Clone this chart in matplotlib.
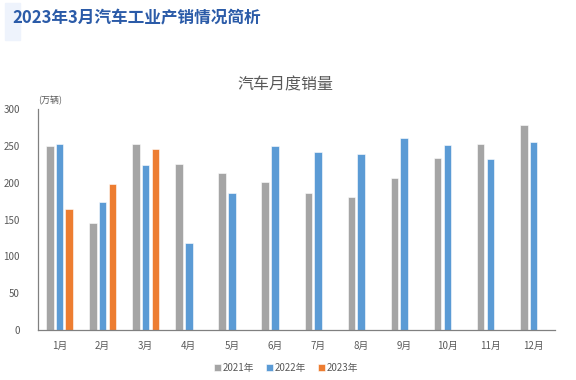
import matplotlib
matplotlib.use("Agg")
import matplotlib.pyplot as plt
import matplotlib.patches as mpatches
import numpy as np

plt.rcParams["font.family"] = ["Noto Sans CJK SC", "DejaVu Sans"]

months = ["1月", "2月", "3月", "4月", "5月", "6月", "7月", "8月", "9月", "10月", "11月", "12月"]
sales_2021 = [250.0, 145.5, 252.6, 225.2, 212.8, 201.5, 186.4, 179.9, 207.0, 233.3, 252.1, 278.6]
sales_2022 = [253.1, 173.7, 223.4, 118.1, 186.2, 250.2, 242.0, 238.3, 261.0, 250.5, 232.7, 255.6]
sales_2023 = [164.9, 197.6, 245.1]
series_names = ["2021年", "2022年", "2023年"]
colors = ["#A5A5A5", "#5B9BD5", "#ED7D31"]

fig = plt.figure(figsize=(5.76, 3.8), dpi=100)

# page header: light block + blue bold title
fig.patches.append(mpatches.Rectangle((5 / 576, 1 - 40 / 380), 15 / 576, 37 / 380,
                                      transform=fig.transFigure, color="#EEF3FC", zorder=0))
fig.text(12 / 576, 1 - 18 / 380, "2023年3月汽车工业产销情况简析", fontsize=12,
         fontweight="bold", color="#2B5BA8", va="center", ha="left")

ax = fig.add_axes([38 / 576, 50 / 380, 517 / 576, 221 / 380])
x = np.arange(len(months))
w = 0.175
step = 0.225
ax.bar(x - step, sales_2021, w, color=colors[0], edgecolor="white", linewidth=0.4, label=series_names[0])
ax.bar(x, sales_2022, w, color=colors[1], edgecolor="white", linewidth=0.4, label=series_names[1])
ax.bar(x[:len(sales_2023)] + step, sales_2023, w, color=colors[2], edgecolor="white",
       linewidth=0.4, label=series_names[2])

ax.set_xlim(-0.5, len(months) - 0.5)
ax.set_ylim(0, 300)
ax.set_yticks(range(0, 301, 50))
ax.set_xticks(x)
ax.set_xticklabels(months)
ax.tick_params(axis="both", length=0, labelsize=7, colors="#595959")
ax.tick_params(axis="x", pad=8)
ax.tick_params(axis="y", pad=13)
for s in ("top", "right"):
    ax.spines[s].set_visible(False)
for s in ("left", "bottom"):
    ax.spines[s].set_color("#808080")
    ax.spines[s].set_linewidth(0.9)

fig.text(285 / 576, 1 - 85 / 380, "汽车月度销量", fontsize=11.5, color="#595959", ha="center", va="center")
fig.text(38 / 576, 1 - 101 / 380, "(万辆)", fontsize=6.5, color="#595959", ha="left", va="center")

fig.legend(loc="center", bbox_to_anchor=(286 / 576, 1 - 368 / 380), ncol=3, frameon=False,
           fontsize=7, handlelength=0.7, handleheight=0.7, handletextpad=0.2, columnspacing=1.2,
           labelcolor="#595959")

fig.savefig("out.png", dpi=100)
